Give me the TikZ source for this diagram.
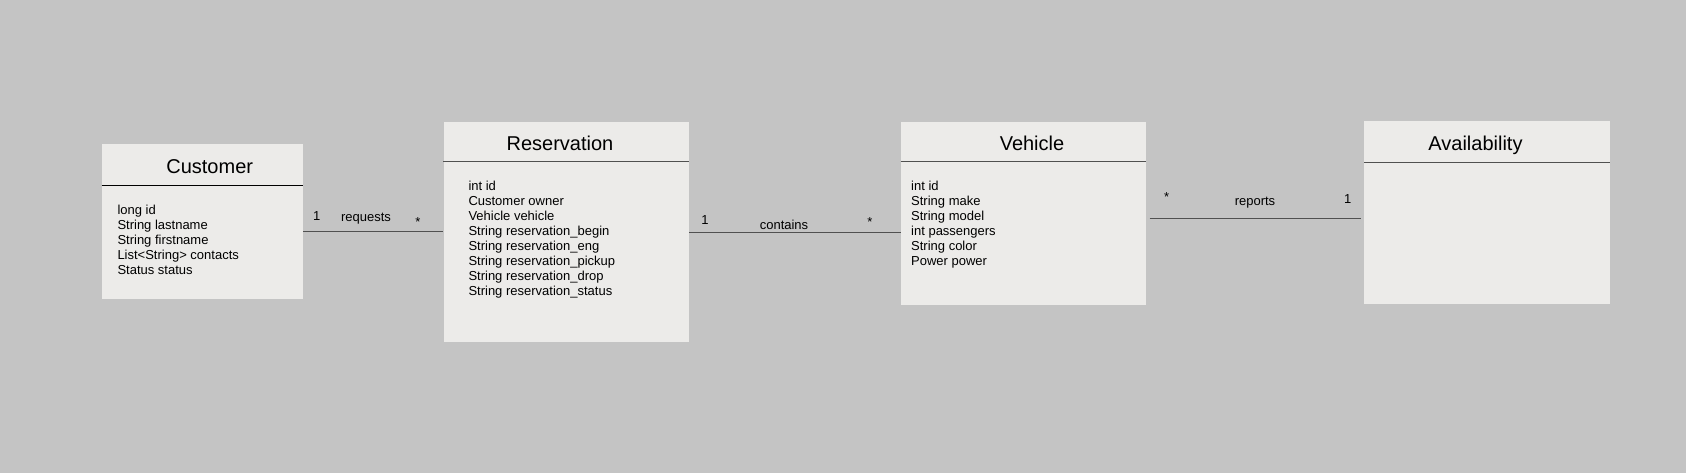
\documentclass[tikz,border=0pt]{standalone}
\usepackage{fontspec}
\setmainfont{Liberation Sans}
\usetikzlibrary{positioning}

\definecolor{canvas}{HTML}{C4C4C4}
\definecolor{boxfill}{HTML}{ECEBE9}
\definecolor{rule}{HTML}{505050}

\tikzset{
  classbox/.style={fill=boxfill, inner sep=0pt, anchor=north west},
  title/.style={anchor=base, inner sep=0pt, font=\fontsize{20}{24}\selectfont},
  attrs/.style={anchor=north west, align=left, inner sep=0pt, font=\fontsize{13}{15}\selectfont},
  lbl/.style={anchor=base, inner sep=0pt, font=\fontsize{13}{15}\selectfont},
  link/.style={draw=rule, line width=1.3pt}
}

\begin{document}
\begin{tikzpicture}[x=1pt, y=-1pt]

\fill[canvas] (0,0) rectangle (1686,473);
\useasboundingbox (0,0) rectangle (1686,473);

% class boxes
\node[classbox, minimum width=201pt, minimum height=155pt] (cust) at (101.7,144) {};
\node[classbox, minimum width=245.7pt, minimum height=219.4pt] (res) at (443.3,122.3) {};
\node[classbox, minimum width=245.3pt, minimum height=182pt] (veh) at (900.7,122.3) {};
\node[classbox, minimum width=245.3pt, minimum height=182.3pt] (avail) at (1364,121) {};

% header rules
\draw[line width=1.3pt] (cust.west |- 0,185.3) -- (cust.east |- 0,185.3);
\draw[rule, line width=1.3pt] (res.west |- 0,161.7) -- (res.east |- 0,161.7);
\draw[rule, line width=1.3pt] (veh.west |- 0,161.7) -- (veh.east |- 0,161.7);
\draw[rule, line width=1.3pt] (avail.west |- 0,162.7) -- (avail.east |- 0,162.7);

% titles
\node[title] (custT) at (209.7,173.3) {Customer};
\node[title] (resT) at (560,150.7) {Reservation};
\node[title] (vehT) at (1032,150.7) {Vehicle};
\node[title] (availT) at (1475.5,150.7) {Availability};

% attributes
\node[attrs] (custA) at (117.3,205) {long id\\String lastname\\String firstname\\List<String> contacts\\Status status};
\node[attrs] (resA) at (468.3,180.7) {int id\\Customer owner\\Vehicle vehicle\\String reservation\_begin\\String reservation\_eng\\String reservation\_pickup\\String reservation\_drop\\String reservation\_status};
\node[attrs] (vehA) at (911,180.7) {int id\\String make\\String model\\int passengers\\String color\\Power power};

% associations
\draw[link] (cust.east) ++(0,9.5) coordinate (reqL) -- (reqL -| res.west);
\draw[link] (res.east) -- (res.east -| veh.west);
\draw[link, shorten >=3pt] (veh.east) ++(3.3,5) coordinate (repL) -- (repL -| avail.west);

\node[lbl] (reqM) at (316.7,220.7) {1};
\node[lbl] (reqN) at (366,221.7) {requests};
\node[lbl] (reqS) at (418,226.8) {*};

\node[lbl] (conM) at (705,225) {1};
\node[lbl] (conN) at (784,229.3) {contains};
\node[lbl] (conS) at (870,226.5) {*};

\node[lbl] (repS) at (1166.7,202) {*};
\node[lbl] (repN) at (1255,205) {reports};
\node[lbl] (repM) at (1347.7,204) {1};

\end{tikzpicture}
\end{document}
